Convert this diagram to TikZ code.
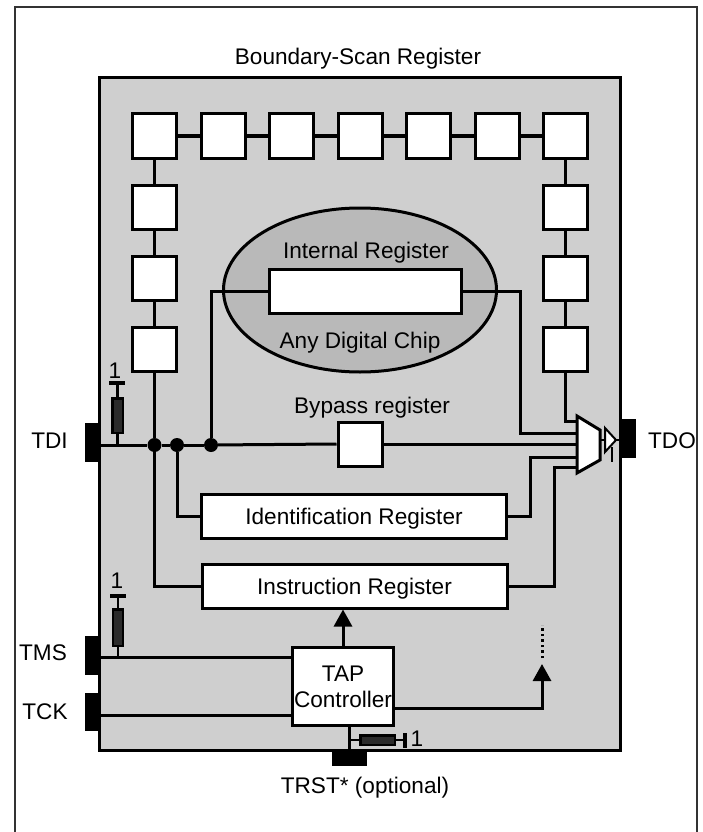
\documentclass[tikz,border=0pt]{standalone}
\usepackage{fontspec}
\setmainfont{Liberation Sans}
\definecolor{chipgrey}{HTML}{CFCFCF}
\definecolor{coregrey}{HTML}{B9B9B9}
\definecolor{resdark}{HTML}{2B2B2B}
\definecolor{framegrey}{HTML}{333333}
\usetikzlibrary{arrows.meta, positioning, calc, shapes.geometric}

\begin{document}
\begin{tikzpicture}[
        x=1pt, y=-1pt,
        font=\fontsize{22.6}{27}\selectfont,
        lbl/.style={text height=16.2pt, text depth=0pt, inner sep=0pt},
        cell/.style={rectangle, draw=black, fill=white, line width=3pt,
                     minimum size=44pt, inner sep=0pt},
        regbox/.style={rectangle, draw=black, fill=white, line width=3pt,
                       minimum height=44pt, inner sep=0pt, lbl},
        pad/.style={rectangle, fill=black, inner sep=0pt},
        res/.style={rectangle, draw=black, fill=resdark, line width=2.5pt, inner sep=0pt},
        dot/.style={circle, fill=black, minimum size=14pt, inner sep=0pt},
        wire/.style={line width=3pt},
        arr/.style={-{Triangle[length=17pt, width=18pt]}, line width=3pt}
      ]
      \useasboundingbox (0,0) rectangle (703,832);
      \draw[framegrey, line width=2.5pt] (15,832) -- (15,7) -- (697,7) -- (697,832);

      % chip outline and pads
      \node[draw=black, fill=chipgrey, line width=3pt, minimum width=521pt,
            minimum height=673pt, inner sep=0pt] (chip) at (360,414) {};
      \node[lbl] at (358,56.5) {Boundary-Scan Register};
      \node[pad, minimum width=14pt, minimum height=39pt] (tdi) at (91.5,442.5) {};
      \node[pad, minimum width=14pt, minimum height=39pt] (tms) at (91.5,655.5) {};
      \node[pad, minimum width=14pt, minimum height=38pt] (tck) at (91.5,712) {};
      \node[pad, minimum width=14pt, minimum height=39pt] (tdo) at (629,438.5) {};
      \node[pad, minimum width=35pt, minimum height=14pt] (trst) at (349.5,759) {};
      \node[lbl] at (49.5,440) {TDI};
      \node[lbl] at (43,652) {TMS};
      \node[lbl] at (45,711.5) {TCK};
      \node[lbl] at (672,440.5) {TDO};
      \node[lbl] at (365,785) {TRST* (optional)};

      % boundary cells
      \node[cell] (bs1) at (154.5,136) {};
      \node[cell, right=21.5pt of bs1] (bs2) {};
      \node[cell, right=21.5pt of bs2] (bs3) {};
      \node[cell, right=21.5pt of bs3] (bs4) {};
      \node[cell, right=21.5pt of bs4] (bs5) {};
      \node[cell, right=21.5pt of bs5] (bs6) {};
      \node[cell, right=21.5pt of bs6] (bs7) {};
      \node[cell, below=24pt of bs1] (lf1) {};
      \node[cell, below=24pt of lf1] (lf2) {};
      \node[cell, below=24pt of lf2] (lf3) {};
      \node[cell, below=24pt of bs7] (rt1) {};
      \node[cell, below=24pt of rt1] (rt2) {};
      \node[cell, below=24pt of rt2] (rt3) {};
      \draw[wire] (bs1) -- (bs2);
      \draw[wire] (bs2) -- (bs3);
      \draw[wire] (bs3) -- (bs4);
      \draw[wire] (bs4) -- (bs5);
      \draw[wire] (bs5) -- (bs6);
      \draw[wire] (bs6) -- (bs7);
      \draw[wire] (bs1) -- (lf1);
      \draw[wire] (lf1) -- (lf2);
      \draw[wire] (lf2) -- (lf3);
      \draw[wire] (bs7) -- (rt1);
      \draw[wire] (rt1) -- (rt2);
      \draw[wire] (rt2) -- (rt3);

      % digital core
      \node[ellipse, draw=black, fill=coregrey, line width=3pt, minimum width=273pt,
            minimum height=164pt, inner sep=0pt] (core) at (360,290) {};
      \node[lbl] at (366,250.5) {Internal Register};
      \node[lbl] at (360,340) {Any Digital Chip};
      \node[regbox, minimum width=192.5pt] (intreg) at (365.5,291) {};

      % registers
      \node[lbl] at (372,405) {Bypass register};
      \node[cell] (bypass) at (360,444) {};
      \node[regbox, minimum width=305pt] (idreg) at (354,516) {Identification Register};
      \node[regbox, minimum width=305pt] (instreg) at (354.5,586) {Instruction Register};
      \node[rectangle, draw=black, fill=white, line width=3pt, minimum width=101pt,
            minimum height=78pt, inner sep=0pt, align=center] (tap) at (343,686.5)
            {TAP\\[-1pt]Controller};

      % output mux and driver
      \coordinate (in1) at (577,421);
      \coordinate (in2) at (577,433);
      \coordinate (in3) at (577,444);
      \coordinate (in4) at (577,457);
      \coordinate (in5) at (577,467);
      \coordinate (muxout) at (600,440);
      \coordinate (drvin) at (605,440);
      \coordinate (drvout) at (616,440);
      \draw[wire, fill=white, line join=miter] (577,416) -- (600,430) -- (600,460)
        -- (577,473) -- cycle;
      \draw[line width=2pt, fill=white] (605,428) -- (616,440) -- (605,452) -- cycle;
      \draw[line width=1.8pt] (612,447) -- (612,462);
      \draw[line width=2pt] (muxout) -- (drvin);
      \draw[line width=2pt] (drvout) -- (tdo.west |- drvout);

      % scan path
      \coordinate (tdipin) at (tdi.east |- 0,445);
      \node[dot] (jn1) at (154.5,445) {};
      \node[dot] (jn2) at (177,445) {};
      \node[dot] (jn3) at (211,445) {};
      \draw[wire] (tdipin) -- (jn1);
      \draw[wire] (jn1) -- (jn2);
      \draw[wire] (jn2) -- (jn3);
      \draw[wire] (jn3) -- (bypass.west);
      \draw[wire] (bypass.east) -- (in3);
      \draw[wire] (lf3) -- (jn1);
      \draw[wire] (jn1) |- (instreg.west);
      \draw[wire] (jn2) |- (idreg.west);
      \draw[wire] (jn3) |- (intreg.west);
      \draw[wire] (intreg.east) -| (520,433) -- (in2);
      \draw[wire] (rt3) |- (in1);
      \draw[wire] (idreg.east) -| (530,457) -- (in4);
      \draw[wire] (instreg.east) -| (554,467) -- (in5);

      % control lines
      \coordinate (tmspin) at (tms.east |- 0,657);
      \coordinate (tckpin) at (tck.east |- 0,715);
      \draw[wire] (tmspin) -- (tmspin -| tap.west);
      \draw[wire] (tckpin) -- (tckpin -| tap.west);
      \draw[arr] (tap.north) -- (tap.north |- instreg.south);
      \coordinate (tick) at (542,664);
      \coordinate (tickend) at (542,625);
      \draw[arr] (tap.east |- 0,708) -| (tick);
      \draw[line width=3pt, dash pattern=on 2.5pt off 3pt] (542,658) -- (tickend);
      \draw[wire] (tap.south -| trst.north) -- (trst.north);

      % pull-ups
      \node[res, minimum width=10.5pt, minimum height=34.5pt] (rtdi) at (117.5,415.5) {};
      \coordinate (captdi) at (117.5,383);
      \draw[line width=2.5pt] (117.5,445) -- (rtdi);
      \draw[line width=2.5pt] (rtdi) -- (captdi);
      \draw[line width=3.5pt] (109,383) -- (125,383);
      \node[lbl] at (115,370) {1};

      \node[res, minimum width=10pt, minimum height=36.5pt] (rtms) at (118,627.5) {};
      \coordinate (captms) at (118,596);
      \draw[line width=2.5pt] (118,657) -- (rtms);
      \draw[line width=2.5pt] (rtms) -- (captms);
      \draw[line width=3.5pt] (110,596) -- (126,596);
      \node[lbl] at (117,580.5) {1};

      \node[res, minimum width=34.5pt, minimum height=9.5pt] (rtrst) at (377.5,740) {};
      \coordinate (captrst) at (405,740);
      \draw[line width=2.5pt] (trst.north |- rtrst) -- (rtrst);
      \draw[line width=2.5pt] (rtrst) -- (captrst);
      \draw[line width=3.5pt] (405,733) -- (405,748);
      \node[lbl] at (417,738.5) {1};
    \end{tikzpicture}
\end{document}
